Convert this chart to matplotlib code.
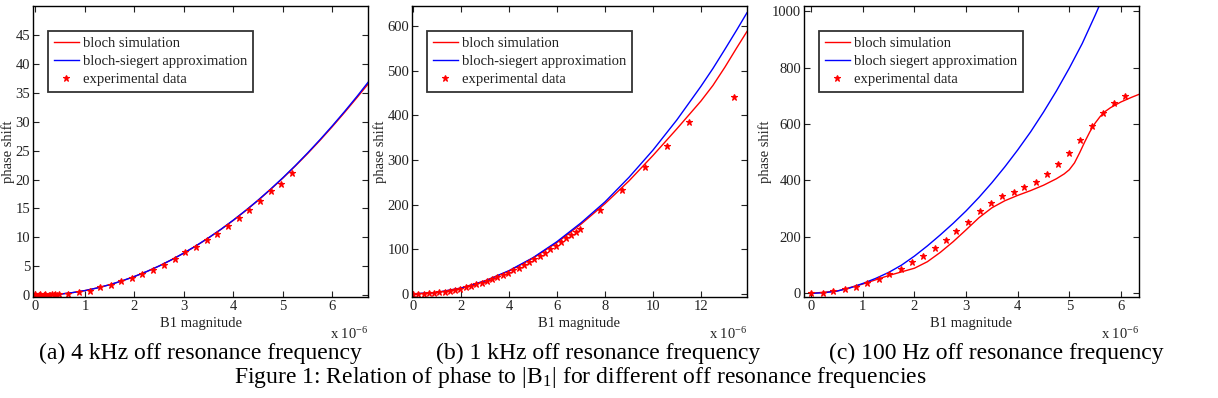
import numpy as np
from matplotlib import pyplot as plt

plt.rcParams['font.family'] = ['Liberation Serif', 'DejaVu Serif']
plt.rcParams['mathtext.fontset'] = 'stix'

# ---- panel (a): 4 kHz off resonance (B1 in units of 1e-6) ----
a_line_x = [0, 0.25, 0.5, 0.75, 1, 1.25, 1.5, 1.75, 2, 2.25, 2.5, 2.75, 3, 3.25,
            3.5, 3.75, 4, 4.25, 4.5, 4.75, 5, 5.25, 5.5, 5.75, 6, 6.25, 6.5, 6.72]
a_bloch = [0, 0.05, 0.2, 0.46, 0.81, 1.27, 1.82, 2.48, 3.24, 4.1, 5.06, 6.13, 7.29, 8.56,
           9.92, 11.39, 12.96, 14.63, 16.4, 18.28, 20.25, 22.33, 24.5, 26.78, 29.16, 31.64, 34.2, 36.5]
a_siegert = [0, 0.05, 0.2, 0.46, 0.81, 1.27, 1.83, 2.49, 3.25, 4.11, 5.07, 6.14, 7.31, 8.58,
             9.95, 11.42, 13.0, 14.68, 16.45, 18.34, 20.32, 22.4, 24.6, 26.9, 29.3, 31.8, 34.4, 36.8]
a_exp_x = [0.0, 0.03, 0.07, 0.1, 0.13, 0.17, 0.2, 0.23, 0.27, 0.3, 0.33, 0.37, 0.4, 0.43, 0.47,
           0.66, 0.88, 1.10, 1.30, 1.52, 1.73, 1.95, 2.16, 2.38, 2.60, 2.81, 3.03, 3.24,
           3.46, 3.67, 3.89, 4.11, 4.32, 4.53, 4.75, 4.96, 5.19]
a_exp_y = [0.2, -0.1, 0.1, 0.3, -0.2, 0.0, 0.2, -0.1, 0.1, 0.0, 0.2, 0.1, 0.2, 0.1, 0.3,
           0.3, 0.6, 0.8, 1.4, 1.7, 2.4, 3.0, 3.7, 4.4, 5.2, 6.2, 7.4, 8.3,
           9.6, 10.6, 11.9, 13.4, 14.7, 16.3, 18.0, 19.3, 21.1]

# ---- panel (b): 1 kHz off resonance ----
b_line_x = [0, 1, 2, 3, 4, 5, 6, 7, 8, 9, 10, 11, 12, 12.5, 13, 13.5, 13.92]
b_bloch = [0, 3.2, 13, 29, 51, 80, 115, 156, 202, 253, 310, 370, 432, 467, 508, 552, 588]
b_siegert = [0, 3.2, 13, 29, 52, 81, 117, 159, 206, 261, 322, 390, 465, 505, 548, 592, 630]
b_exp_x = [0, 0.22, 0.44, 0.66, 0.88, 1.1, 1.32, 1.54, 1.76, 1.98, 2.2, 2.42, 2.64, 2.86,
           3.08, 3.3, 3.52, 3.74, 3.96, 4.18, 4.4, 4.62, 4.84, 5.06, 5.28, 5.5, 5.72,
           5.94, 6.16, 6.38, 6.6, 6.8, 6.96, 7.8, 8.73, 9.67, 10.58, 11.52, 13.36]
b_exp_y = [0, 0.2, 0.6, 1.3, 2.4, 3.7, 5.3, 7.2, 9.4, 12, 14.8, 17.9, 21.3, 25,
           28.9, 33.2, 37.8, 42.7, 47.8, 53.3, 59, 65.1, 71.5, 78.1, 85, 92.3, 99.8,
           107.6, 115.7, 124.2, 132, 138, 145, 188, 233, 285, 332, 384, 442]

# ---- panel (c): 100 Hz off resonance ----
c_line_x = [0, 0.5, 1, 1.5, 2, 2.25, 2.5, 2.75, 3, 3.25, 3.5, 3.75, 4, 4.25, 4.5, 4.75,
            4.9, 5.0, 5.1, 5.2, 5.3, 5.4, 5.5, 5.6, 5.7, 5.8, 6.0, 6.2, 6.35]
c_bloch = [0, 8, 33, 63, 89, 112, 145, 183, 225, 268, 303, 328, 347, 364, 383, 406,
           423, 438, 462, 498, 537, 573, 603, 627, 645, 658, 678, 694, 705]
c_sieg_x = [0, 0.25, 0.5, 0.75, 1, 1.25, 1.5, 1.75, 2, 2.25, 2.5, 2.75, 3, 3.25, 3.5,
            3.75, 4, 4.25, 4.5, 4.75, 5, 5.25, 5.5, 5.75]
c_siegert = [0, 2, 8, 19, 35, 53, 74, 100, 132, 168, 207, 248, 292, 340, 392,
             448, 508, 572, 642, 717, 798, 885, 985, 1090]
c_exp_x = [0, 0.22, 0.43, 0.66, 0.87, 1.09, 1.31, 1.51, 1.73, 1.96, 2.17, 2.39, 2.61,
           2.81, 3.04, 3.26, 3.49, 3.70, 3.92, 4.13, 4.36, 4.57, 4.78, 5.0, 5.21, 5.43,
           5.66, 5.87, 6.08]
c_exp_y = [2, 2, 8, 14, 24, 38, 51, 67, 87, 112, 134, 159, 188, 220, 252, 291, 320, 344,
           359, 377, 393, 423, 458, 497, 544, 594, 638, 674, 700]

labels = ['bloch simulation', 'bloch-siegert approximation', 'experimental data']
labels_c = ['bloch simulation', 'bloch siegert approximation', 'experimental data']
captions = ['(a) 4 kHz off resonance frequency', '(b) 1 kHz off resonance frequency',
            '(c) 100 Hz off resonance frequency']

W, H = 1218, 398
FS = 10.5
fig = plt.figure(figsize=(W / 100, H / 100), dpi=100)


def make_axes(x0, x1, y0=6, y1=297):
    return fig.add_axes([x0 / W, 1 - y1 / H, (x1 - x0) / W, (y1 - y0) / H])


def style(ax, leg_labels):
    ax.tick_params(direction='in', top=True, right=True, length=4, width=0.8,
                   labelsize=FS, pad=2, colors='#222222')
    for s in ax.spines.values():
        s.set_linewidth(1.0)
    ax.set_xlabel('B1 magnitude', fontsize=FS, labelpad=3, color='#222222')
    ax.set_ylabel('phase shift', fontsize=FS, labelpad=0, color='#222222')
    ax.text(1.0, -0.125, r'x 10$^{\mathregular{-6}}$', transform=ax.transAxes,
            ha='right', va='center', fontsize=FS, color='#222222')
    leg = ax.legend(leg_labels, loc='upper left', bbox_to_anchor=(0.045, 0.915),
                    borderaxespad=0, fontsize=FS, handlelength=1.7, handletextpad=0.3,
                    borderpad=0.4, labelspacing=0.33, numpoints=1, fancybox=False)
    leg.get_frame().set_edgecolor('black')
    leg.get_frame().set_linewidth(1.3)
    for t in leg.get_texts():
        t.set_color('#222222')


# panel a
ax = make_axes(33, 368)
ax.plot(a_line_x, a_bloch, color='r', lw=1.0)
ax.plot(a_line_x, a_siegert, color='b', lw=1.0)
ax.plot(a_exp_x, a_exp_y, 'r*', ms=5, mew=0.8, ls='none')
ax.set_xlim(-0.05, 6.72)
ax.set_ylim(-0.3, 50)
ax.set_xticks(range(0, 7))
ax.set_yticks(range(0, 50, 5))
style(ax, labels)

# panel b
ax = make_axes(412, 747)
ax.plot(b_line_x, b_bloch, color='r', lw=1.0)
ax.plot(b_line_x, b_siegert, color='b', lw=1.0)
ax.plot(b_exp_x, b_exp_y, 'r*', ms=5, mew=0.8, ls='none')
ax.set_xlim(-0.04, 13.92)
ax.set_ylim(-7, 645)
ax.set_xticks(range(0, 14, 2))
ax.set_yticks(range(0, 700, 100))
style(ax, labels)

# panel c
ax = make_axes(804, 1139)
ax.plot(c_line_x, c_bloch, color='r', lw=1.0)
ax.plot(c_sieg_x, c_siegert, color='b', lw=1.0)
ax.plot(c_exp_x, c_exp_y, 'r*', ms=5, mew=0.8, ls='none')
ax.set_xlim(-0.14, 6.35)
ax.set_ylim(-13, 1018)
ax.set_xticks(range(0, 7))
ax.set_yticks(range(0, 1001, 200))
style(ax, labels_c)

# captions
for cx, cap in zip([200, 598, 996], captions):
    fig.text(cx / W, 1 - 353 / H, cap, ha='center', va='center', fontsize=17)
fig.text(580 / W, 1 - 378 / H,
         r'Figure 1: Relation of phase to |B$_{\mathregular{1}}$| for different off resonance frequencies',
         ha='center', va='center', fontsize=17)

fig.savefig('out.png', dpi=100)
